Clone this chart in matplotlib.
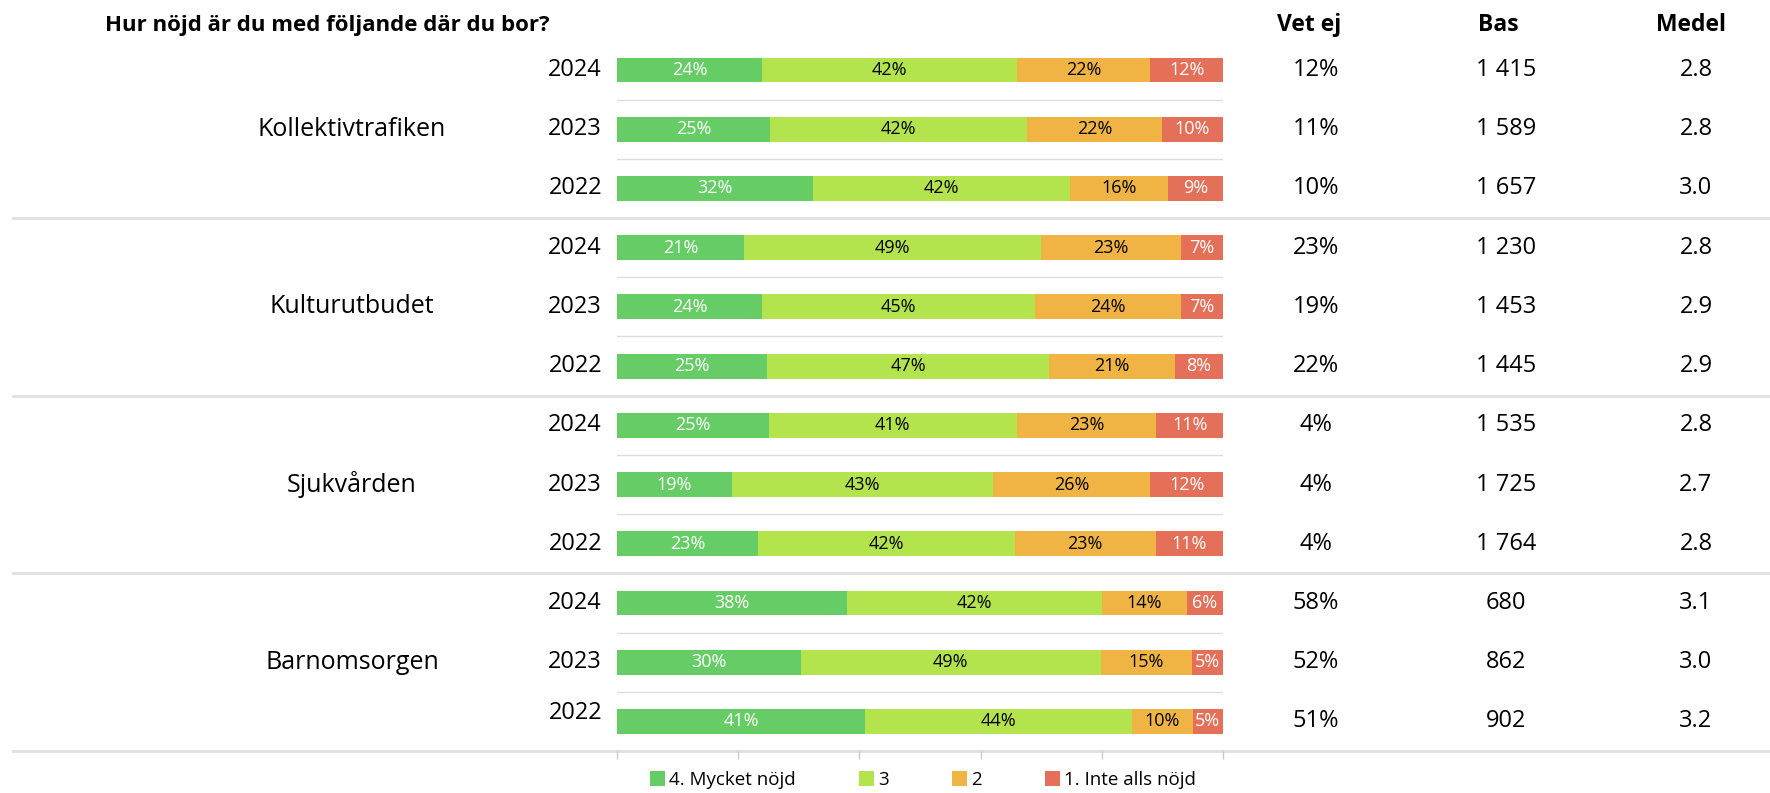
import numpy as np
import matplotlib.pyplot as plt
import matplotlib.transforms as mtransforms
from matplotlib.patches import Patch

plt.rcParams['font.family'] = ['Open Sans', 'DejaVu Sans']

# data
groups = ["Kollektivtrafiken", "Kulturutbudet", "Sjukvården", "Barnomsorgen"]
years = ["2024", "2023", "2022"]
series = ["4. Mycket nöjd", "3", "2", "1. Inte alls nöjd"]
nojd4 = [24, 25, 32, 21, 24, 25, 25, 19, 23, 38, 30, 41]
nojd3 = [42, 42, 42, 49, 45, 47, 41, 43, 42, 42, 49, 44]
nojd2 = [22, 22, 16, 23, 24, 21, 23, 26, 23, 14, 15, 10]
nojd1 = [12, 10, 9, 7, 7, 8, 11, 12, 11, 6, 5, 5]
vet_ej = [12, 11, 10, 23, 19, 22, 4, 4, 4, 58, 52, 51]
bas = [1415, 1589, 1657, 1230, 1453, 1445, 1535, 1725, 1764, 680, 862, 902]
medel = [2.8, 2.8, 3.0, 2.8, 2.9, 2.9, 2.8, 2.7, 2.8, 3.1, 3.0, 3.2]

colors = ["#66CC66", "#B3E34D", "#F0B445", "#E4705A"]
label_colors = ["white", "black", "black", "white"]

W, H = 1770, 793
fig = plt.figure(figsize=(W / 100, H / 100), dpi=100)
ax = fig.add_axes([617 / W, 1 - 751 / H, (1223 - 617) / W, (751 - 40.4) / H])

vals = np.array([nojd4, nojd3, nojd2, nojd1], dtype=float)
widths = vals / vals.sum(axis=0) * 100
n = vals.shape[1]
y = np.arange(n)

left = np.zeros(n)
for k in range(4):
    bars = ax.barh(y, widths[k], left=left, height=0.42, color=colors[k], edgecolor="none")
    ax.bar_label(bars, labels=["%d%%" % v for v in vals[k]], label_type="center",
                 color=label_colors[k], fontsize=13)
    left += widths[k]

ax.set_xlim(0, 100)
ax.set_ylim(11.5, -0.5)
ax.set_yticks([])
ax.set_xticks(range(0, 101, 20))
ax.set_xticklabels([])
ax.tick_params(axis="x", length=6, width=1, color="#C8C8C8")
for s in ax.spines.values():
    s.set_visible(False)

trans = mtransforms.blended_transform_factory(fig.transFigure, ax.transData)

# light lines between years inside a group
for i in range(n - 1):
    if (i + 1) % 3 != 0:
        ax.axhline(i + 0.5, color="#DCDCDC", lw=1, zorder=0)

# group separators across the whole width
for yy in [2.5, 5.5, 8.5, 11.5]:
    ax.plot([13 / W, 1.0], [yy, yy], transform=trans, color="#E0E0E0", lw=2,
            clip_on=False, zorder=0)

# year labels and right-hand columns
for i in range(n):
    off = -0.15 if i == n - 1 else 0
    ax.text(602 / W, i + off, years[i % 3], transform=trans, ha="right", va="center", fontsize=17)
    ax.text(1316 / W, i, "%d%%" % vet_ej[i], transform=trans, ha="center", va="center", fontsize=17)
    ax.text(1506 / W, i, "{:,}".format(bas[i]).replace(",", " "), transform=trans,
            ha="center", va="center", fontsize=17)
    ax.text(1696 / W, i, "%.1f" % medel[i], transform=trans, ha="center", va="center", fontsize=17)

for g, name in enumerate(groups):
    ax.text(352 / W, g * 3 + 1, name, transform=trans, ha="center", va="center", fontsize=18)

# headers
fig.text(105 / W, 1 - 25 / H, "Hur nöjd är du med följande där du bor?", ha="left", va="center",
         fontsize=16, fontweight="bold")
fig.text(1309 / W, 1 - 25 / H, "Vet ej", ha="center", va="center", fontsize=16.5, fontweight="bold")
fig.text(1498 / W, 1 - 25 / H, "Bas", ha="center", va="center", fontsize=16.5, fontweight="bold")
fig.text(1691 / W, 1 - 25 / H, "Medel", ha="center", va="center", fontsize=16.5, fontweight="bold")

handles = [Patch(facecolor=c, edgecolor="none", label=s) for c, s in zip(colors, series)]
fig.legend(handles=handles, loc="center", bbox_to_anchor=(923 / W, 1 - 780 / H), ncol=4,
           frameon=False, fontsize=13.5, handlelength=0.8, handleheight=0.8, handletextpad=0.2,
           columnspacing=3.4)

fig.savefig("out.png", dpi=100, facecolor="white")
